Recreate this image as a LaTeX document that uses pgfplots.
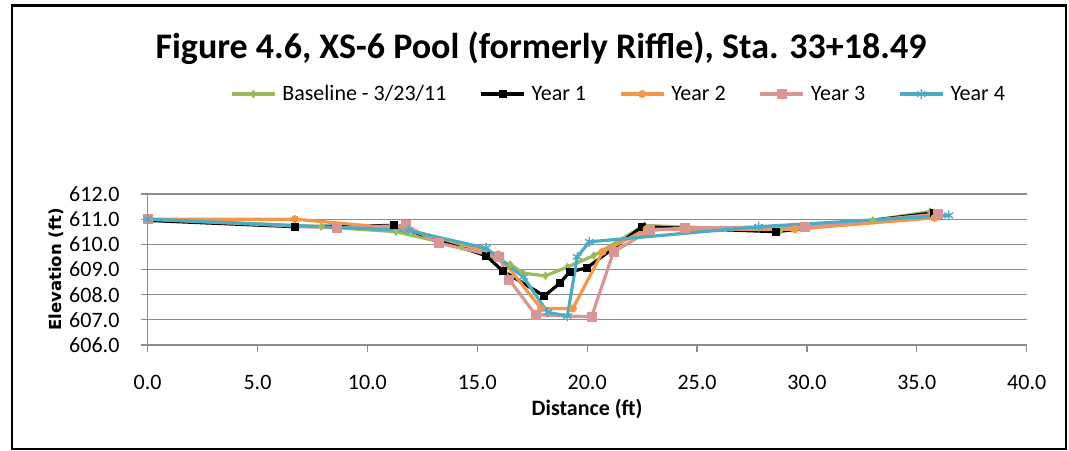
\documentclass[border=0pt]{standalone}
\usepackage{fontspec}
\setmainfont{Carlito}
\newfontfamily\ylabfont{DejaVu Sans}
\usepackage{pgfplots}
\pgfplotsset{compat=1.18}
\definecolor{cGreen}{HTML}{9BBB59}
\definecolor{cOrange}{HTML}{F79646}
\definecolor{cPink}{HTML}{D99694}
\definecolor{cBlue}{HTML}{4BACC6}
\definecolor{cGrid}{HTML}{8C8C8C}
\begin{document}
\begin{tikzpicture}[x=1bp,y=1bp]
\path[use as bounding box] (0,0) rectangle (1069,451);
\draw[line width=2.5bp] (12,2) rectangle (1066,445.5);
\node[font=\fontsize{36bp}{42bp}\selectfont\bfseries] at (541,403) {Figure 4.6, XS-6 Pool (formerly Riffle), Sta. 33+18.49};
\begin{axis}[
  at={(147.6bp,106bp)}, anchor=south west,
  scale only axis, width=879.1bp, height=151bp,
  xmin=0, xmax=40, ymin=606, ymax=612,
  xtick={0,5,...,40}, ytick={606,607,...,612},
  axis x line*=bottom, axis y line*=left,
  axis line style={draw=cGrid, line width=1.2bp, -},
  tick style={draw=cGrid, line width=1.2bp},
  tick align=outside, major tick length=7bp,
  ymajorgrids, grid style={draw=cGrid, line width=1.2bp},
  /pgf/number format/.cd, fixed, fixed zerofill, precision=1, 1000 sep={}, assume math mode=true,
  /pgfplots/.cd,
  ticklabel style={font=\fontsize{22bp}{26bp}\selectfont},
  xticklabel style={anchor=center, inner sep=0pt, yshift=-30bp},
  yticklabel style={anchor=east, inner sep=0pt, xshift=-21bp},
  xlabel={Distance (ft)},
  xlabel style={font=\fontsize{22bp}{26bp}\selectfont\bfseries, at={(axis description cs:0.5,-0.4238)}, anchor=center},
  ylabel={Elevation (ft)},
  ylabel style={font=\ylabfont\fontsize{16.5bp}{20bp}\selectfont\bfseries, at={(axis description cs:-0.1035,0.5)}, anchor=center},
  legend columns=5,
  legend image code/.code={\draw[mark repeat=2,mark phase=2,#1] plot coordinates {(0bp,0bp) (21.5bp,0bp) (43bp,0bp)};},
  legend style={draw=none, fill=none, inner sep=0pt, at={(axis description cs:0.0937,1.662)}, anchor=west,
    font=\fontsize{22bp}{26bp}\selectfont, nodes={inner xsep=3bp, inner ysep=2bp},
    /tikz/every odd column/.append style={column sep=3bp},
    /tikz/every even column/.append style={column sep=30bp}},
  every axis plot/.append style={line width=3.2bp},
]
\addplot[color=cGreen, mark=diamond*, mark size=3.5bp, mark options={line width=1bp}] coordinates {
(0,611.0) (7.9,610.7) (11.3,610.5) (14.3,609.9) (16.5,609.2) (17.1,608.85) (18.1,608.75) (19.1,609.1) (20.3,609.55) (22.6,610.75) (28.8,610.55) (33.0,610.95) (35.6,611.3)};
\addlegendentry{Baseline - 3/23/11}
\addplot[color=black, mark=square*, mark size=3.5bp, mark options={line width=1bp}] coordinates {
(0,610.95) (6.7,610.7) (11.2,610.75) (15.4,609.55) (16.15,608.95) (18.05,607.95) (18.75,608.45) (19.2,608.9) (20.0,609.07) (22.5,610.7) (28.6,610.5) (35.8,611.25)};
\addlegendentry{Year 1}
\addplot[color=cOrange, mark=*, mark size=3.5bp, mark options={line width=1bp}] coordinates {
(0,611.0) (6.7,611.0) (11.8,610.6) (15.95,609.6) (17.9,607.45) (19.35,607.45) (20.7,609.7) (22.7,610.6) (29.45,610.6) (35.8,611.05)};
\addlegendentry{Year 2}
\addplot[color=cPink, mark=square*, mark size=4.5bp, mark options={line width=1bp}] coordinates {
(0,611.0) (8.6,610.65) (11.75,610.75) (13.25,610.05) (16.0,609.5) (16.45,608.6) (17.65,607.2) (20.2,607.12) (21.2,609.7) (22.85,610.55) (24.45,610.65) (29.9,610.7) (35.95,611.2)};
\addlegendentry{Year 3}
\addplot[color=cBlue, mark=asterisk, mark size=5bp, mark options={line width=1.5bp}] coordinates {
(0,611.0) (11.85,610.55) (15.4,609.85) (17.1,608.7) (18.2,607.3) (19.1,607.15) (19.55,609.5) (20.1,610.1) (27.8,610.7) (36.45,611.15)};
\addlegendentry{Year 4}
\end{axis}
\end{tikzpicture}
\end{document}
